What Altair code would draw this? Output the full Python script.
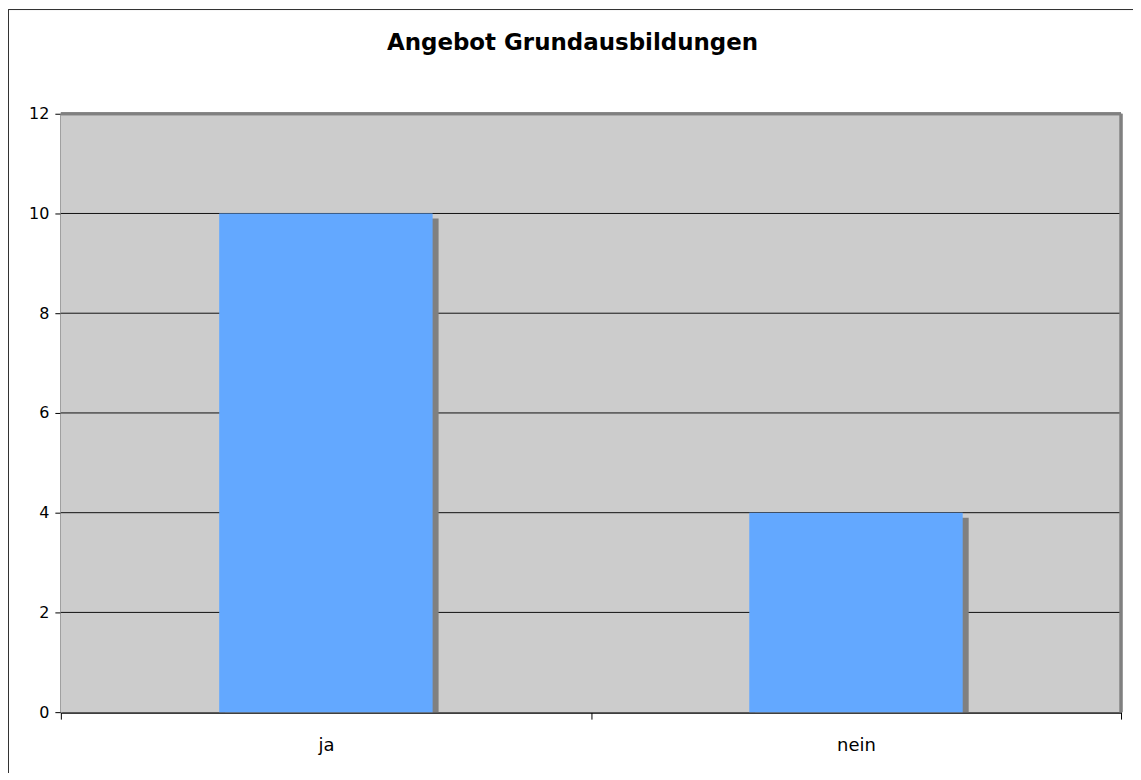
import altair as alt
import pandas as pd

categories = ["ja", "nein"]
values = [10, 4]
y_ticks = [0, 2, 4, 6, 8, 10, 12]
title_text = "Angebot Grundausbildungen"

df = pd.DataFrame({"cat": categories, "val": values})
grid_df = pd.DataFrame({"val": y_ticks[1:-1]})
title_df = pd.DataFrame({"t": [title_text]})

W, H = 1063, 600
FONT = "DejaVu Sans"

y_scale = alt.Scale(domain=[0, 12], nice=False)

x_enc = alt.X("cat:N", sort=categories, title=None,
              scale=alt.Scale(paddingInner=0, paddingOuter=0),
              axis=alt.Axis(labelAngle=0, labelFontSize=18, labelColor="#000000",
                            labelFont=FONT, labelPadding=17, tickBand="extent",
                            tickSize=7, tickColor="#000000", domainColor="#000000",
                            domainWidth=2, grid=False))
y_enc = alt.Y("val:Q", title=None, scale=y_scale,
              axis=alt.Axis(values=y_ticks, labelFontSize=16, labelColor="#000000",
                            labelFont=FONT, labelPadding=6, tickSize=6,
                            tickColor="#000000", domainColor="#555555", domainWidth=2,
                            grid=False))

base = alt.Chart(df)

bg = base.mark_rect(color="#CCCCCC").encode(
    x=alt.value(0), x2=alt.value(W), y=alt.value(0), y2=alt.value(H))
grid = alt.Chart(grid_df).mark_rule(color="#111111", strokeWidth=1).encode(
    y=alt.Y("val:Q", scale=y_scale), x=alt.value(0), x2=alt.value(W))
shadow = base.mark_bar(color="#808080", size=214, xOffset=6, yOffset=5, clip=True).encode(
    x=x_enc, y=y_enc)
bars = base.mark_bar(color="#63A8FF", size=214).encode(x=x_enc, y=y_enc)

# plot-area right/top border
top_border = base.mark_rule(color="#808080", strokeWidth=3).encode(
    x=alt.value(0), x2=alt.value(W), y=alt.value(0))
right_border = base.mark_rule(color="#808080", strokeWidth=3).encode(
    x=alt.value(W), y=alt.value(0), y2=alt.value(H))
# outer chart border (left & top)
outer_left = base.mark_rule(color="#333333", strokeWidth=1).encode(
    x=alt.value(-52.5), y=alt.value(-104.5), y2=alt.value(H + 80))
outer_top = base.mark_rule(color="#333333", strokeWidth=1).encode(
    x=alt.value(-52.5), x2=alt.value(W + 40), y=alt.value(-104.5))

title = alt.Chart(title_df).mark_text(
    font=FONT, fontSize=23, fontWeight="bold", color="#000000",
    align="center", baseline="alphabetic").encode(
    text="t:N", x=alt.value(513), y=alt.value(-64))

chart = alt.layer(bg, grid, shadow, bars, top_border, right_border,
                  outer_left, outer_top, title).properties(
    width=W, height=H,
    padding={"left": 53, "top": 105, "right": 12, "bottom": 60},
    autosize=alt.AutoSizeParams(type="none"),
).configure_view(strokeWidth=0).configure(background="#FFFFFF")

chart.save("out.html", embed_options={"renderer": "svg", "actions": False})
